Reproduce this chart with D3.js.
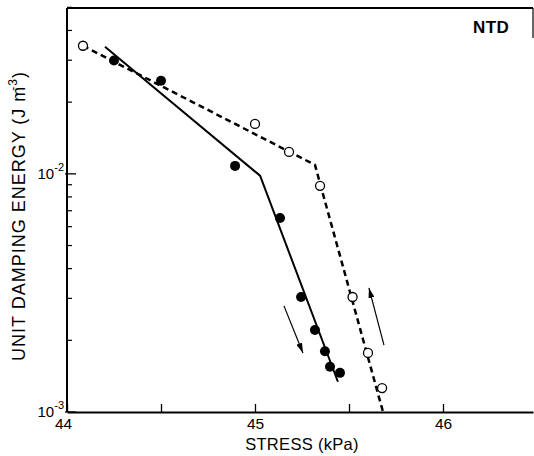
<!DOCTYPE html>
<html>
<head>
<meta charset="utf-8">
<script src="https://cdn.jsdelivr.net/npm/d3@7"></script>
<style>
  html, body { margin: 0; padding: 0; background: #fff; }
  svg { display: block; font-family: "Liberation Sans", Arial, Helvetica, sans-serif; }
</style>
</head>
<body>
<svg id="chart" width="534" height="456"></svg>
<script>
// ---- data ----
const filledStress = [44.25, 44.50, 44.894, 45.133, 45.245, 45.319, 45.372, 45.399, 45.452];
const filledEnergy = [0.0299, 0.0246, 0.0108, 0.00653, 0.00304, 0.00221, 0.00180, 0.00155, 0.00146];

const openStress = [44.085, 45.000, 45.181, 45.346, 45.519, 45.601, 45.676];
const openEnergy = [0.0345, 0.0162, 0.01236, 0.00891, 0.00304, 0.00177, 0.00126];

const solidFitStress = [44.202, 45.027, 45.441];
const solidFitEnergy = [0.0342, 0.00982, 0.00134];

const dashedFitStress = [44.085, 45.319, 45.681];
const dashedFitEnergy = [0.0345, 0.0109, 0.0010];

const arrowDownStress = [45.154, 45.255];
const arrowDownEnergy = [0.00279, 0.00177];
const arrowUpStress = [45.686, 45.606];
const arrowUpEnergy = [0.00191, 0.00332];

const xTickValues = [44, 44.5, 45, 45.5, 46];
const xTickLabels = ["44", "", "45", "", "46"];
const yMinorTicks = [0.002, 0.003, 0.004, 0.005, 0.006, 0.007, 0.008, 0.009, 0.02, 0.03, 0.04, 0.05];
const yMajorTicks = [0.001, 0.01];
const yMajorExponents = ["-3", "-2"];

const panelLabel = "NTD";
const xTitle = "STRESS (kPa)";
const yTitleMain = "UNIT DAMPING ENERGY (J m";
const yTitleSup = "-3";
const yTitleEnd = ")";

// ---- layout ----
const mLeft = 67, mRight = 533, mTop = 8, mBottom = 412;
const svg = d3.select("#chart");

const x = d3.scaleLinear().domain([44, 44 + (mRight - mLeft) / 188]).range([mLeft, mRight]);
const y = d3.scaleLog().domain([0.001, 0.0497]).range([mBottom, mTop]);

// ---- x axis ----
const xAxis = d3.axisBottom(x)
  .tickValues(xTickValues)
  .tickSizeInner(-8)
  .tickSizeOuter(0)
  .tickPadding(6)
  .tickFormat((d, i) => xTickLabels[i]);
const gx = svg.append("g").attr("transform", `translate(0,${mBottom})`).call(xAxis);
gx.attr("font-size", null).attr("font-family", null);
gx.select(".domain").attr("stroke", "#000").attr("stroke-width", 2);
gx.selectAll(".tick line").attr("stroke", "#000").attr("stroke-width", 1.3);
gx.selectAll(".tick text").attr("fill", "#000")
  .style("font-size", "15.5px")
  .style("font-family", "'Liberation Sans', Arial, sans-serif");
gx.selectAll(".tick").filter(d => d === 44).select("text").attr("dx", -4);

// ---- y axis ----
svg.append("line").attr("x1", mLeft).attr("x2", mLeft).attr("y1", mTop).attr("y2", mBottom)
  .attr("stroke", "#000").attr("stroke-width", 2);
svg.selectAll(".yminor").data(yMinorTicks).join("line")
  .attr("class", "yminor")
  .attr("x1", mLeft).attr("x2", mLeft + 5)
  .attr("y1", d => y(d)).attr("y2", d => y(d))
  .attr("stroke", "#000").attr("stroke-width", 1.2);
svg.selectAll(".ymajor").data(yMajorTicks).join("line")
  .attr("class", "ymajor")
  .attr("x1", mLeft - 2).attr("x2", mLeft + 9)
  .attr("y1", d => y(d)).attr("y2", d => y(d))
  .attr("stroke", "#000").attr("stroke-width", 1.3);
const ylab = svg.selectAll(".ylab").data(yMajorTicks).join("text")
  .attr("class", "ylab")
  .attr("x", mLeft - 3)
  .attr("y", d => y(d) + 5)
  .attr("text-anchor", "end")
  .style("font-size", "15px");
ylab.append("tspan").text("10");
ylab.append("tspan").style("font-size", "11px").attr("dy", -8).text((d, i) => yMajorExponents[i]);

// frame: top border and short right edge
svg.append("line").attr("x1", mLeft).attr("x2", mRight).attr("y1", mTop).attr("y2", mTop)
  .attr("stroke", "#000").attr("stroke-width", 2);
svg.append("line").attr("x1", mRight).attr("x2", mRight).attr("y1", mTop).attr("y2", mTop + 30)
  .attr("stroke", "#000").attr("stroke-width", 1.2);

// ---- titles ----
svg.append("text").attr("x", 302).attr("y", 450).attr("text-anchor", "middle")
  .style("font-size", "16.5px").attr("letter-spacing", 0.3).text(xTitle);

const yt = svg.append("text")
  .attr("transform", "translate(25,216) rotate(-90)")
  .attr("text-anchor", "middle")
  .style("font-size", "18px").attr("letter-spacing", 1);
yt.append("tspan").text(yTitleMain);
yt.append("tspan").style("font-size", "12px").attr("dy", -8).attr("dx", -5).text(yTitleSup);
yt.append("tspan").attr("dy", 8).text(yTitleEnd);

svg.append("text").attr("x", 473).attr("y", 33)
  .style("font-size", "17px").attr("font-weight", "bold").attr("letter-spacing", 0.4).text(panelLabel);

// ---- fit lines ----
const line = d3.line().x(d => x(d[0])).y(d => y(d[1]));
svg.append("path")
  .datum(d3.zip(solidFitStress, solidFitEnergy))
  .attr("d", line).attr("fill", "none").attr("stroke", "#000").attr("stroke-width", 2);
svg.append("path")
  .datum(d3.zip(dashedFitStress, dashedFitEnergy))
  .attr("d", line).attr("fill", "none").attr("stroke", "#000").attr("stroke-width", 2.5)
  .attr("stroke-dasharray", "6,4");

// ---- arrows ----
svg.append("defs").append("marker")
  .attr("id", "ah").attr("viewBox", "0 0 10 6").attr("refX", 10).attr("refY", 3)
  .attr("markerUnits", "userSpaceOnUse").attr("markerWidth", 10).attr("markerHeight", 6)
  .attr("orient", "auto")
  .append("path").attr("d", "M0,0 L10,3 L0,6 Z").attr("fill", "#000");
[[arrowDownStress, arrowDownEnergy], [arrowUpStress, arrowUpEnergy]].forEach(([s, e]) => {
  svg.append("path").datum(d3.zip(s, e)).attr("d", line)
    .attr("fill", "none").attr("stroke", "#000").attr("stroke-width", 1.2)
    .attr("marker-end", "url(#ah)");
});

// ---- points ----
svg.selectAll(".open").data(d3.zip(openStress, openEnergy)).join("circle")
  .attr("class", "open")
  .attr("cx", d => x(d[0])).attr("cy", d => y(d[1])).attr("r", 4.5)
  .attr("fill", "#fff").attr("stroke", "#000").attr("stroke-width", 1.3);
svg.selectAll(".filled").data(d3.zip(filledStress, filledEnergy)).join("circle")
  .attr("class", "filled")
  .attr("cx", d => x(d[0])).attr("cy", d => y(d[1])).attr("r", 5)
  .attr("fill", "#000");
</script>
</body>
</html>
